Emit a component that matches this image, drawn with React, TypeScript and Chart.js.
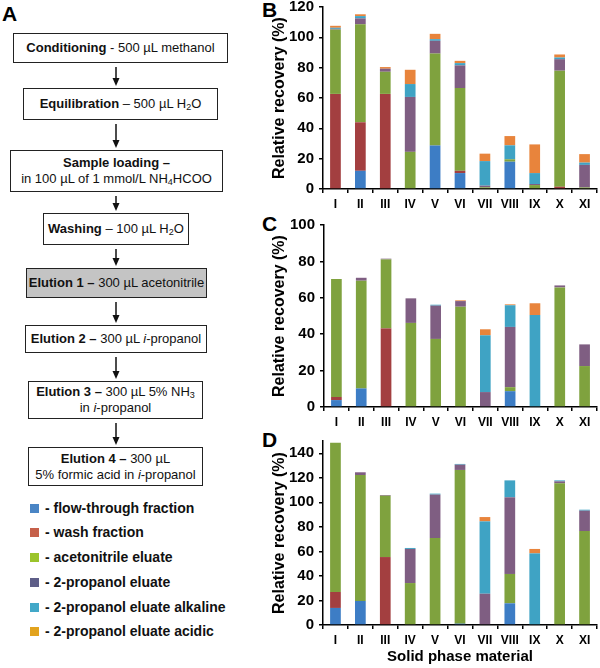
import React, { useEffect, useRef } from "react";
import { Chart, registerables } from "chart.js";
Chart.register(...registerables);

const FONT = "Arial, 'Liberation Sans', sans-serif";

const categories = ["I", "II", "III", "IV", "V", "VI", "VII", "VIII", "IX", "X", "XI"];
const seriesNames = [
  "flow-through fraction",
  "wash fraction",
  "acetonitrile eluate",
  "2-propanol eluate",
  "2-propanol eluate alkaline",
  "2-propanol eluate acidic",
];
const barColors = ["#3D7DC5", "#A33F40", "#7FA23E", "#7F5E82", "#3FA3C4", "#E8843C"];
const legendColors = ["#4A85C5", "#C6604A", "#9BC42B", "#5E5E88", "#42A8C8", "#E2A31E"];

// Panel B
const bFlow = [0, 12, 0, 0, 28.7, 10.5, 0, 18, 0, 0, 0];
const bWash = [62.7, 32, 62.7, 0, 0, 1.5, 0, 0, 0, 1.5, 0];
const bAcn = [42.4, 64.6, 14.6, 24.5, 60.6, 54.6, 1.1, 1.6, 2.6, 76.5, 1];
const bProp = [0.5, 3.9, 2, 36.2, 8.4, 14.9, 1.1, 0, 0.7, 7.6, 14.9];
const bAlk = [0.7, 1.5, 0, 8.5, 1.1, 1.5, 16.2, 9.2, 7.2, 1.1, 1.5];
const bAcid = [1.3, 1.2, 1.1, 9.4, 3.5, 1.5, 4.9, 6.1, 18.9, 2, 5.6];
const bTicks = [0, 20, 40, 60, 80, 100, 120];

// Panel C
const cFlow = [3.8, 10.2, 0, 0, 0, 0, 0, 8.7, 0, 0, 0];
const cWash = [1.7, 0, 43.2, 0, 0, 0, 0, 0, 0, 0, 0];
const cAcn = [64.8, 59.2, 37.9, 46.2, 37.4, 55.1, 0, 2.2, 0, 65.7, 22.5];
const cProp = [0, 1.6, 0.4, 13.5, 18.3, 3.1, 8.2, 33.1, 0, 1.1, 11.9];
const cAlk = [0, 0, 0, 0, 0.5, 0, 31.2, 11.9, 50.5, 0, 0];
const cAcid = [0, 0, 0, 0, 0, 0.4, 3.3, 0.5, 6.5, 0, 0];
const cTicks = [0, 20, 40, 60, 80, 100];

// Panel D
const dFlow = [13.9, 19.6, 0, 0, 0, 1.1, 0, 17.7, 0, 0, 0];
const dWash = [13, 0, 55.4, 0, 0, 0, 0, 0, 0, 0, 0];
const dAcn = [121.7, 102.7, 50, 34.2, 70.9, 125.3, 0, 23.9, 0, 115.5, 76.6];
const dProp = [0, 2.2, 0.6, 27.8, 35.4, 4.3, 25.5, 62.5, 0, 1.6, 16.6];
const dAlk = [0, 0, 0, 0.8, 0.8, 0.6, 59, 13.8, 58.4, 0.8, 0.8];
const dAcid = [0, 0, 0, 0, 0, 0, 3.5, 0, 3.6, 0, 0];
const dTicks = [0, 20, 40, 60, 80, 100, 120, 140];

const yTitle = "Relative recovery (%)";
const xTitle = "Solid phase material";

type ChartProps = {
  left: number;
  top: number;
  width: number;
  height: number;
  series: number[][];
  yMax: number;
  yTicks: number[];
  yAxisWidth: number;
  xAxisHeight: number;
  padTop: number;
  showXTitle: boolean;
};

function StackChart(p: ChartProps) {
  const ref = useRef<HTMLCanvasElement>(null);
  useEffect(() => {
    const chart = new Chart(ref.current!, {
      type: "bar",
      data: {
        labels: categories,
        datasets: p.series.map((d, i) => ({
          label: seriesNames[i],
          data: d,
          backgroundColor: barColors[i],
          borderWidth: 0,
          barPercentage: 0.43,
          categoryPercentage: 1,
        })),
      },
      options: {
        responsive: false,
        animation: false,
        devicePixelRatio: 1,
        layout: { padding: { top: p.padTop, right: 3, left: 0, bottom: 0 } },
        plugins: { legend: { display: false }, tooltip: { enabled: false } },
        scales: {
          x: {
            stacked: true,
            grid: {
              display: true,
              drawOnChartArea: false,
              drawTicks: true,
              tickLength: 4,
              color: "#000",
              lineWidth: 1.5,
            },
            border: { display: true, color: "#000", width: 1.5 },
            ticks: {
              color: "#000",
              font: { family: FONT, size: 12, weight: "bold" },
              padding: 4,
              maxRotation: 0,
              autoSkip: false,
            },
            title: {
              display: p.showXTitle,
              text: xTitle,
              color: "#000",
              font: { family: FONT, size: 15, weight: "bold" },
              padding: { top: 0, bottom: 2 },
            },
            afterFit: (s: any) => {
              s.height = p.xAxisHeight;
            },
          } as any,
          y: {
            stacked: true,
            min: 0,
            max: p.yMax,
            grid: {
              display: true,
              drawOnChartArea: false,
              drawTicks: true,
              tickLength: 4,
              color: "#000",
              lineWidth: 1.5,
            },
            border: { display: true, color: "#000", width: 1.5 },
            ticks: {
              color: "#000",
              font: { family: FONT, size: 15, weight: "bold", lineHeight: 0.1 },
              padding: 5,
            },
            afterBuildTicks: (s: any) => {
              s.ticks = p.yTicks.map((v) => ({ value: v }));
            },
            title: {
              display: true,
              text: yTitle,
              color: "#000",
              font: { family: FONT, size: 16, weight: "bold", lineHeight: 1 },
              padding: { top: 10, bottom: 0 },
            },
            afterFit: (s: any) => {
              s.width = p.yAxisWidth;
            },
          } as any,
        },
      },
    });
    return () => chart.destroy();
  }, []);
  return (
    <canvas
      ref={ref}
      width={p.width}
      height={p.height}
      style={{ position: "absolute", left: p.left, top: p.top, width: p.width, height: p.height }}
    />
  );
}

type BoxDef = { left: number; top: number; width: number; height: number; gray?: boolean; content: React.ReactNode };

const subStyle: React.CSSProperties = { fontSize: 9, verticalAlign: "-2px", lineHeight: 0 };

const boxes: BoxDef[] = [
  { left: 13, top: 33, width: 215, height: 30, content: <><b>Conditioning</b> - 500 µL methanol</> },
  { left: 23, top: 88, width: 195, height: 32, content: <><b>Equilibration</b> – 500 µL H<span style={subStyle}>2</span>O</> },
  {
    left: 10, top: 150, width: 213, height: 42,
    content: <><b>Sample loading –</b><br />in 100 µL of 1 mmol/L NH<span style={subStyle}>4</span>HCOO</>,
  },
  { left: 43, top: 213, width: 146, height: 32, content: <><b>Washing</b> – 100 µL H<span style={subStyle}>2</span>O</> },
  { left: 26, top: 268, width: 181, height: 30, gray: true, content: <><b>Elution 1 –</b> 300 µL acetonitrile</> },
  { left: 25, top: 325, width: 182, height: 28, content: <><b>Elution 2 –</b> 300 µL <i>i</i>-propanol</> },
  {
    left: 28, top: 381, width: 175, height: 38,
    content: <><b>Elution 3 –</b> 300 µL 5% NH<span style={subStyle}>3</span><br />in <i>i</i>-propanol</>,
  },
  {
    left: 28, top: 447, width: 175, height: 39,
    content: <><b>Elution 4 –</b> 300 µL<br />5% formic acid in <i>i</i>-propanol</>,
  },
];

const legendTops = [508, 532, 557, 582, 607, 631];

export default function App() {
  const arrows: [number, number][] = [];
  for (let i = 0; i < boxes.length - 1; i++) {
    arrows.push([boxes[i].top + boxes[i].height, boxes[i + 1].top]);
  }
  const letter: React.CSSProperties = {
    position: "absolute",
    fontFamily: FONT,
    fontWeight: "bold",
    fontSize: 21,
    lineHeight: "21px",
    color: "#000",
  };
  return (
    <div
      style={{
        position: "absolute",
        left: 0,
        top: 0,
        width: 600,
        height: 668,
        background: "#fff",
        fontFamily: FONT,
        color: "#111",
        overflow: "hidden",
      }}
    >
      <div style={{ ...letter, left: 2, top: 3 }}>A</div>
      <div style={{ ...letter, left: 262, top: -1 }}>B</div>
      <div style={{ ...letter, left: 262, top: 213 }}>C</div>
      <div style={{ ...letter, left: 262, top: 429 }}>D</div>

      {boxes.map((b, i) => (
        <div
          key={i}
          style={{
            position: "absolute",
            left: b.left,
            top: b.top,
            width: b.width,
            height: b.height,
            boxSizing: "border-box",
            border: "1.5px solid #222",
            background: b.gray ? "#C4C4C4" : "#fff",
            display: "flex",
            alignItems: "center",
            justifyContent: "center",
            textAlign: "center",
            fontSize: 13,
            lineHeight: "16px",
            whiteSpace: "nowrap",
          }}
        >
          <div>{b.content}</div>
        </div>
      ))}

      <svg width={260} height={500} style={{ position: "absolute", left: 0, top: 0 }}>
        {arrows.map(([y1, y2], i) => (
          <g key={i}>
            <line x1={116} y1={y1 + 4} x2={116} y2={y2 - 9} stroke="#111" strokeWidth={1.5} />
            <polygon points={`${112.5},${y2 - 10} ${119.5},${y2 - 10} ${116},${y2 - 2}`} fill="#111" />
          </g>
        ))}
      </svg>

      {seriesNames.map((n, i) => (
        <div
          key={n}
          style={{
            position: "absolute",
            left: 30,
            top: legendTops[i] - 8,
            height: 16,
            display: "flex",
            alignItems: "center",
            fontSize: 14,
            fontWeight: "bold",
            color: "#111",
            whiteSpace: "nowrap",
          }}
        >
          <span style={{ display: "inline-block", width: 9, height: 9, background: legendColors[i], marginRight: 6 }} />
          <span>- {n}</span>
        </div>
      ))}

      <StackChart
        left={262}
        top={0}
        width={338}
        height={212}
        series={[bFlow, bWash, bAcn, bProp, bAlk, bAcid]}
        yMax={120}
        yTicks={bTicks}
        yAxisWidth={61}
        xAxisHeight={23}
        padTop={7}
        showXTitle={false}
      />
      <StackChart
        left={262}
        top={212}
        width={338}
        height={220}
        series={[cFlow, cWash, cAcn, cProp, cAlk, cAcid]}
        yMax={100}
        yTicks={cTicks}
        yAxisWidth={62}
        xAxisHeight={25}
        padTop={13}
        showXTitle={false}
      />
      <StackChart
        left={262}
        top={432}
        width={338}
        height={236}
        series={[dFlow, dWash, dAcn, dProp, dAlk, dAcid]}
        yMax={150}
        yTicks={dTicks}
        yAxisWidth={61}
        xAxisHeight={43}
        padTop={9}
        showXTitle={true}
      />
    </div>
  );
}
